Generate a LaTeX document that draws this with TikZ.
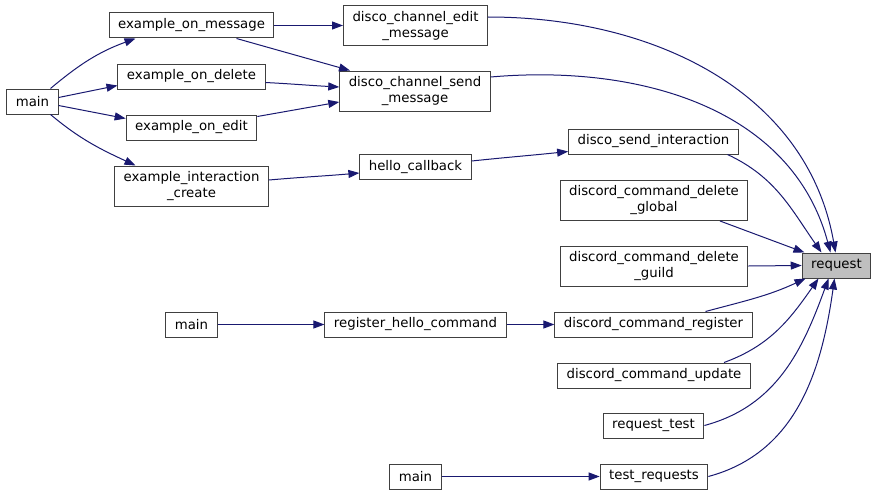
\documentclass[tikz,border=0pt]{standalone}
\usepackage{fontspec}
\setmainfont{DejaVu Sans}
\usetikzlibrary{arrows.meta}
\definecolor{edgeblue}{HTML}{191970}
\definecolor{boxgray}{HTML}{404040}
\definecolor{hilite}{HTML}{BFBFBF}
\begin{document}
\begin{tikzpicture}[x=1pt,y=-1pt]
\tikzstyle{fn}=[draw=boxgray,line width=1pt,fill=white,inner xsep=9pt,inner ysep=0pt,minimum height=25pt,align=center,font=\fontsize{13.3}{16}\selectfont]
\tikzstyle{fn2}=[fn,minimum height=40pt]
\tikzstyle{call}=[draw=edgeblue,line width=1pt,-{Triangle[length=11pt,width=8pt,fill=edgeblue]}]
\useasboundingbox (0,0) rectangle (877,495);
\node[fn] (mainA) at (32.5,101.5) {main};
\node[fn] (onmsg) at (191.5,25.5) {example\_on\_message};
\node[fn] (ondel) at (191.5,76.5) {example\_on\_delete};
\node[fn] (onedit) at (191.5,127.5) {example\_on\_edit};
\node[fn2] (intcreate) at (191.5,186) {example\_interaction\\\_create};
\node[fn2] (chedit) at (415.5,26) {disco\_channel\_edit\\\_message};
\node[fn2] (chsend) at (415,91) {disco\_channel\_send\\\_message};
\node[fn] (hellocb) at (415.5,167) {hello\_callback};
\node[fn] (sendint) at (653.5,141.5) {disco\_send\_interaction};
\node[fn2] (delglobal) at (654,200.5) {discord\_command\_delete\\\_global};
\node[fn2] (delguild) at (654,266) {discord\_command\_delete\\\_guild};
\node[fn,fill=hilite] (request) at (836.5,265.5) {request};
\node[fn] (mainB) at (191.5,324.5) {main};
\node[fn] (reghello) at (415.5,324.5) {register\_hello\_command};
\node[fn] (cmdreg) at (653.5,324.5) {discord\_command\_register};
\node[fn] (cmdupd) at (654,375.5) {discord\_command\_update};
\node[fn] (reqtest) at (653.5,425.5) {request\_test};
\node[fn] (mainC) at (415.5,476.5) {main};
\node[fn] (testreq) at (654,476.5) {test\_requests};
\draw[call] ([xshift=18pt]mainA.north) to[out=40,in=-160] ([xshift=-56pt]onmsg.south);
\draw[call] ([yshift=4pt]mainA.east) -- ([yshift=-9pt]ondel.west);
\draw[call] ([yshift=-4pt]mainA.east) -- ([yshift=9pt]onedit.west);
\draw[call] ([xshift=18pt]mainA.south) to[out=-40,in=155] ([xshift=-56pt]intcreate.north);
\draw[call] (onmsg.east) -- (chedit.west |- onmsg.east);
\draw[call] ([xshift=45pt]onmsg.south) -- ([xshift=-65pt]chsend.north);
\draw[call] ([yshift=-6pt]ondel.east) to[out=-3,in=177] ([yshift=4pt]chsend.west);
\draw[call] ([yshift=11pt]onedit.east) to[out=10,in=-170] ([yshift=-11pt]chsend.west);
\draw[call] ([yshift=6pt]intcreate.east) to[out=5,in=-175] ([yshift=-6pt]hellocb.west);
\draw[call] ([yshift=6pt]hellocb.east) to[out=6,in=-174] ([yshift=-10pt]sendint.west);
\draw[call] ([yshift=9pt]chedit.east) to[out=0,in=100] ([xshift=-1pt]request.north);
\draw[call] ([yshift=14pt]chsend.east) to[out=5,in=105] ([xshift=-6pt]request.north);
\draw[call] ([xshift=74pt]sendint.south) to[out=-25,in=125] ([xshift=-15pt]request.north);
\draw[call] ([xshift=66pt]delglobal.south) -- ([xshift=-32pt]request.north);
\draw[call] (delguild.east) -- (request.west);
\draw[call] ([xshift=52pt]cmdreg.north) to[out=15,in=-155] ([xshift=-31pt]request.south);
\draw[call] ([xshift=70pt]cmdupd.north) to[out=20,in=-125] ([xshift=-18pt]request.south);
\draw[call] (reqtest.east) to[out=15,in=-110] ([xshift=-8pt]request.south);
\draw[call] (testreq.east) to[out=15,in=-98] ([xshift=-2pt]request.south);
\draw[call] (mainB) -- (reghello);
\draw[call] (reghello) -- (cmdreg);
\draw[call] (mainC) -- (testreq);
\end{tikzpicture}
\end{document}
